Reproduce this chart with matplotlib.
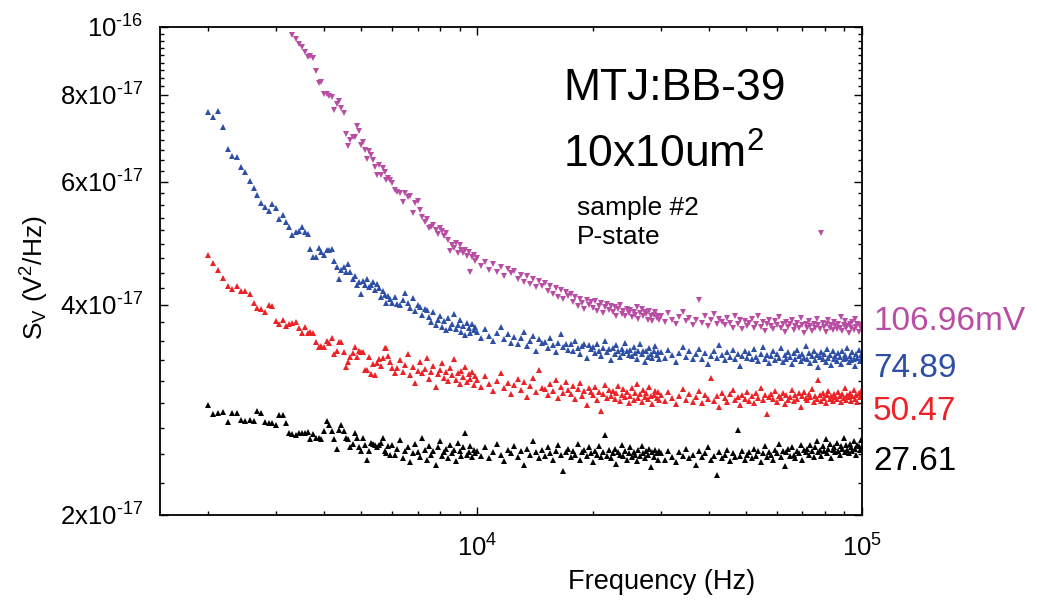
import matplotlib
matplotlib.use('Agg')
import matplotlib.pyplot as plt
import numpy as np
from matplotlib.ticker import FixedLocator, LogLocator, NullFormatter

plt.rcParams['font.family'] = ['Liberation Sans', 'DejaVu Sans']
plt.rcParams['mathtext.fontset'] = 'custom'
plt.rcParams['mathtext.rm'] = 'Liberation Sans'
plt.rcParams['mathtext.it'] = 'Liberation Sans:italic'
plt.rcParams['mathtext.bf'] = 'Liberation Sans:bold'
plt.rcParams['mathtext.default'] = 'regular'

# measurement frequencies (kHz), shared by all four bias voltages
freq_khz = [
    2.0, 2.0625, 2.125, 2.1875, 2.25, 2.3125, 2.375, 2.4375, 2.5, 2.5625, 2.625, 2.6875, 2.75, 2.8125, 2.875, 2.9375,
    3.0, 3.0625, 3.125, 3.1875, 3.25, 3.3125, 3.375, 3.4375, 3.5, 3.5625, 3.625, 3.6875, 3.75, 3.8125, 3.875, 3.9375,
    4.0, 4.0625, 4.125, 4.1875, 4.25, 4.3125, 4.375, 4.4375, 4.5, 4.5625, 4.625, 4.6875, 4.75, 4.8125, 4.875, 4.9375,
    5.0, 5.0625, 5.125, 5.1875, 5.25, 5.3125, 5.375, 5.4375, 5.5, 5.5625, 5.625, 5.6875, 5.75, 5.8125, 5.875, 5.9375,
    6.0, 6.1, 6.2, 6.3, 6.4, 6.5, 6.6, 6.7, 6.8, 6.9, 7.0, 7.1, 7.2, 7.3, 7.4, 7.5, 7.6, 7.7, 7.8, 7.9,
    8.0, 8.1, 8.2, 8.3, 8.4, 8.5, 8.6, 8.7, 8.8, 8.9, 9.0, 9.1, 9.2, 9.3, 9.4, 9.5, 9.6, 9.7, 9.8, 9.9,
    10.0, 10.25, 10.5, 10.75, 11.0, 11.25, 11.5, 11.75, 12.0, 12.25, 12.5, 12.75, 13.0, 13.25, 13.5, 13.75,
    14.0, 14.25, 14.5, 14.75, 15.0, 15.25, 15.5, 15.75, 16.0, 16.25, 16.5, 16.75, 17.0, 17.25, 17.5, 17.75,
    18.0, 18.25, 18.5, 18.75, 19.0, 19.25, 19.5, 19.75, 20.0, 20.25, 20.5, 20.75, 21.0, 21.25, 21.5, 21.75,
    22.0, 22.25, 22.5, 22.75, 23.0, 23.25, 23.5, 23.75, 24.0, 24.25, 24.5, 24.75, 25.0, 25.25, 25.5, 25.75,
    26.0, 26.25, 26.5, 26.75, 27.0, 27.25, 27.5, 27.75, 28.0, 28.25, 28.5, 28.75, 29.0, 29.25, 29.5, 29.75,
    30.0, 30.7, 31.4, 32.1, 32.8, 33.5, 34.2, 34.9, 35.6, 36.3, 37.0, 37.7, 38.4, 39.1, 39.8, 40.5, 41.2, 41.9, 42.6, 43.3,
    44.0, 44.7, 45.4, 46.1, 46.8, 47.5, 48.2, 48.9, 49.6, 50.3, 51.0, 51.7, 52.4, 53.1, 53.8, 54.5, 55.2, 55.9, 56.6, 57.3,
    58.0, 58.7, 59.4, 60.1, 60.8, 61.5, 62.2, 62.9, 63.6, 64.3, 65.0, 65.7, 66.4, 67.1, 67.8, 68.5, 69.2, 69.9, 70.6, 71.3,
    72.0, 72.7, 73.4, 74.1, 74.8, 75.5, 76.2, 76.9, 77.6, 78.3, 79.0, 79.7, 80.4, 81.1, 81.8, 82.5, 83.2, 83.9, 84.6, 85.3,
    86.0, 86.7, 87.4, 88.1, 88.8, 89.5, 90.2, 90.9, 91.6, 92.3, 93.0, 93.7, 94.4, 95.1, 95.8, 96.5, 97.2, 97.9, 98.6, 99.3,
    100.0,
]

# S_V in units of 1e-17 V^2/Hz
sv_27mv = [
    2.87, 2.79, 2.80, 2.81, 2.72, 2.80, 2.80, 2.74, 2.73, 2.74, 2.73, 2.82, 2.80, 2.72, 2.71, 2.71,
    2.69, 2.78, 2.78, 2.71, 2.62, 2.61, 2.60, 2.62, 2.62, 2.62, 2.63, 2.57, 2.61, 2.58, 2.58, 2.57,
    2.64, 2.73, 2.69, 2.64, 2.57, 2.49, 2.65, 2.69, 2.64, 2.58, 2.57, 2.50, 2.53, 2.62, 2.58, 2.50,
    2.47, 2.58, 2.52, 2.40, 2.47, 2.54, 2.53, 2.52, 2.50, 2.52, 2.54, 2.58, 2.47, 2.45, 2.51, 2.44,
    2.52, 2.44, 2.49, 2.56, 2.41, 2.47, 2.50, 2.38, 2.45, 2.53, 2.46, 2.42, 2.58, 2.48, 2.40, 2.51, 2.44, 2.47, 2.36, 2.50,
    2.55, 2.43, 2.46, 2.49, 2.41, 2.52, 2.45, 2.48, 2.39, 2.54, 2.47, 2.43, 2.50, 2.62, 2.44, 2.46, 2.51, 2.42, 2.48, 2.45,
    2.47, 2.43, 2.50, 2.41, 2.46, 2.53, 2.44, 2.39, 2.48, 2.45, 2.51, 2.42, 2.47, 2.36, 2.49, 2.44,
    2.55, 2.46, 2.41, 2.48, 2.43, 2.50, 2.45, 2.40, 2.47, 2.52, 2.44, 2.31, 2.46, 2.49, 2.42, 2.47,
    2.44, 2.53, 2.40, 2.46, 2.48, 2.43, 2.50, 2.45, 2.38, 2.47, 2.44, 2.51, 2.42, 2.46, 2.60, 2.43,
    2.48, 2.41, 2.45, 2.49, 2.37, 2.46, 2.44, 2.52, 2.43, 2.47, 2.40, 2.45, 2.50, 2.42, 2.46, 2.44,
    2.39, 2.48, 2.43, 2.51, 2.45, 2.41, 2.47, 2.44, 2.49, 2.34, 2.46, 2.42, 2.48, 2.45, 2.40, 2.47,
    2.45, 2.40, 2.47, 2.42, 2.38, 2.46, 2.43, 2.49, 2.41, 2.44, 2.36, 2.47, 2.42, 2.45, 2.50, 2.40, 2.43, 2.28, 2.46, 2.41,
    2.44, 2.48, 2.39, 2.45, 2.42, 2.65, 2.43, 2.47, 2.40, 2.44, 2.46, 2.41, 2.49, 2.43, 2.47, 2.38, 2.45, 2.51, 2.42, 2.46,
    2.44, 2.40, 2.48, 2.45, 2.53, 2.42, 2.47, 2.35, 2.46, 2.49, 2.43, 2.50, 2.44, 2.41, 2.47, 2.45, 2.52, 2.40, 2.48, 2.46,
    2.49, 2.44, 2.52, 2.47, 2.42, 2.50, 2.55, 2.46, 2.48, 2.43, 2.51, 2.47, 2.57, 2.45, 2.49, 2.53, 2.41, 2.48, 2.50, 2.46,
    2.54, 2.47, 2.44, 2.51, 2.49, 2.58, 2.46, 2.52, 2.48, 2.45, 2.53, 2.50, 2.47, 2.55, 2.49, 2.44, 2.52, 2.51, 2.48, 2.56,
    2.50,
]

sv_50mv = [
    4.72, 4.59, 4.49, 4.37, 4.26, 4.21, 4.26, 4.19, 4.18, 4.14, 4.02, 3.96, 3.95, 3.91, 4.00, 3.98,
    3.79, 3.75, 3.80, 3.73, 3.76, 3.77, 3.78, 3.70, 3.65, 3.72, 3.65, 3.66, 3.64, 3.54, 3.48, 3.49,
    3.48, 3.55, 3.53, 3.59, 3.40, 3.44, 3.54, 3.54, 3.42, 3.26, 3.31, 3.37, 3.41, 3.48, 3.37, 3.44,
    3.42, 3.42, 3.23, 3.23, 3.37, 3.18, 3.29, 3.17, 3.30, 3.35, 3.27, 3.36, 3.47, 3.47, 3.38, 3.31,
    3.25, 3.19, 3.25, 3.33, 3.21, 3.28, 3.40, 3.17, 3.26, 3.09, 3.22, 3.31, 3.19, 3.24, 3.36, 3.13, 3.20, 3.27, 3.05, 3.18,
    3.23, 3.30, 3.14, 3.21, 3.11, 3.25, 3.17, 3.34, 3.12, 3.19, 3.08, 3.22, 3.15, 3.26, 3.10, 3.18, 3.13, 3.21, 3.07, 3.16,
    3.12, 3.05, 3.16, 3.08, 3.01, 3.11, 3.19, 3.04, 3.09, 2.98, 3.07, 3.13, 3.02, 3.10, 2.95, 3.06,
    3.14, 3.00, 3.23, 3.04, 3.03, 2.97, 3.08, 3.01, 3.12, 2.94, 3.05, 2.99, 3.10, 3.02, 2.98, 3.06,
    2.93, 3.03, 3.09, 2.96, 3.01, 2.87, 3.04, 3.00, 2.97, 3.05, 2.92, 3.00, 2.82, 2.98, 3.07, 2.94,
    3.02, 2.96, 3.01, 2.93, 2.99, 3.06, 2.91, 2.97, 3.03, 2.95, 3.00, 2.89, 2.96, 3.04, 2.92, 2.99,
    3.08, 2.94, 2.98, 2.90, 3.02, 2.95, 2.99, 2.93, 3.05, 2.96, 2.88, 2.97, 3.01, 2.94, 3.00, 2.92,
    2.97, 2.91, 3.00, 2.94, 2.88, 2.96, 3.03, 2.92, 2.98, 2.90, 2.95, 3.01, 2.89, 2.97, 2.93, 3.14, 2.91, 2.96, 2.86, 2.99,
    2.94, 2.90, 2.98, 3.02, 2.92, 2.95, 2.87, 2.97, 2.93, 3.00, 2.91, 2.96, 2.89, 2.99, 2.94, 3.04, 2.92, 2.97, 2.79, 2.95,
    2.98, 2.93, 3.01, 2.90, 2.96, 2.94, 2.99, 2.88, 2.97, 2.92, 2.95, 3.02, 2.91, 2.97, 2.93, 2.99, 2.86, 2.96, 3.00, 2.94,
    2.92, 2.98, 2.95, 3.03, 2.90, 2.96, 2.93, 3.12, 2.97, 2.91, 2.99, 2.94, 2.89, 2.97, 3.01, 2.93, 2.96, 2.91, 2.98, 2.95,
    2.93, 3.00, 2.96, 2.90, 2.98, 2.94, 3.04, 2.92, 2.97, 2.95, 2.99, 2.91, 2.96, 3.02, 2.93, 2.97, 2.90, 2.99, 2.95, 3.01,
    2.96,
]

sv_75mv = [
    7.55, 7.43, 7.58, 7.19, 6.69, 6.53, 6.51, 6.30, 6.20, 6.02, 5.88, 5.74, 5.60, 5.53, 5.45, 5.57,
    5.50, 5.31, 5.38, 5.26, 5.17, 5.04, 5.08, 5.10, 5.17, 5.08, 5.05, 4.81, 4.68, 4.68, 4.82, 4.76,
    4.71, 4.79, 4.79, 4.81, 4.62, 4.53, 4.36, 4.49, 4.53, 4.46, 4.58, 4.46, 4.35, 4.40, 4.27, 4.31,
    4.15, 4.33, 4.27, 4.36, 4.24, 4.27, 4.31, 4.20, 4.29, 4.23, 4.10, 4.18, 4.13, 4.02, 4.12, 4.08,
    4.02, 4.10, 4.01, 4.00, 4.07, 4.16, 4.02, 3.96, 4.09, 3.92, 4.00, 3.97, 3.87, 3.95, 3.93, 3.84, 3.78, 3.90, 3.74, 3.81,
    3.86, 3.72, 3.79, 3.68, 3.83, 3.71, 3.76, 3.88, 3.69, 3.74, 3.80, 3.66, 3.73, 3.62, 3.77, 3.70, 3.65, 3.75, 3.68, 3.72,
    3.66, 3.58, 3.69, 3.61, 3.55, 3.64, 3.72, 3.57, 3.63, 3.53, 3.60, 3.51, 3.58, 3.66, 3.49, 3.55,
    3.61, 3.44, 3.57, 3.53, 3.54, 3.47, 3.58, 3.50, 3.42, 3.53, 3.63, 3.48, 3.52, 3.45, 3.51, 3.43,
    3.55, 3.47, 3.40, 3.49, 3.52, 3.36, 3.50, 3.46, 3.48, 3.41, 3.52, 3.44, 3.38, 3.47, 3.55, 3.42,
    3.46, 3.33, 3.47, 3.40, 3.50, 3.43, 3.37, 3.46, 3.41, 3.53, 3.44, 3.39, 3.45, 3.38, 3.48, 3.41,
    3.35, 3.44, 3.51, 3.40, 3.43, 3.31, 3.44, 3.37, 3.47, 3.40, 3.36, 3.43, 3.49, 3.39, 3.42, 3.35,
    3.42, 3.36, 3.45, 3.39, 3.31, 3.41, 3.48, 3.37, 3.43, 3.34, 3.40, 3.46, 3.35, 3.41, 3.29, 3.38, 3.44, 3.36, 3.50, 3.39,
    3.33, 3.42, 3.37, 3.45, 3.35, 3.40, 3.27, 3.38, 3.43, 3.36, 3.41, 3.34, 3.46, 3.37, 3.32, 3.40, 3.48, 3.35, 3.39, 3.30,
    3.38, 3.44, 3.33, 3.40, 3.36, 3.47, 3.31, 3.39, 3.35, 3.42, 3.37, 3.29, 3.41, 3.34, 3.45, 3.38, 3.32, 3.40, 3.36, 3.49,
    3.35, 3.41, 3.30, 3.38, 3.44, 3.33, 3.39, 3.26, 3.37, 3.42, 3.34, 3.40, 3.31, 3.46, 3.36, 3.39, 3.28, 3.43, 3.35, 3.38,
    3.32, 3.41, 3.37, 3.29, 3.44, 3.34, 3.39, 3.36, 3.47, 3.31, 3.38, 3.33, 3.42, 3.35, 3.27, 3.40, 3.36, 3.45, 3.32, 3.39,
    3.37,
]

# 106.96 mV curve leaves the top of the axis below ~3.3 kHz; its points start at freq_khz[21]
sv_107mv = [
    9.74, 9.61, 9.45, 9.36, 9.20, 9.06, 9.09, 9.03, 8.65, 8.31, 8.34,
    8.02, 8.02, 7.96, 7.94, 7.60, 7.76, 7.83, 7.65, 7.53, 7.03, 6.76, 6.89, 6.96, 6.96, 7.21, 7.10,
    6.78, 6.84, 6.66, 6.47, 6.64, 6.56, 6.45, 6.30, 6.14, 6.34, 6.14, 6.28, 6.20, 6.04, 6.08, 6.04,
    5.98, 5.84, 5.80, 5.78, 5.61, 5.79, 5.71, 5.73, 5.41, 5.60, 5.63, 5.47, 5.34, 5.26, 5.30, 5.15, 5.17, 5.20, 5.12, 5.05,
    5.15, 5.10, 5.02, 5.07, 4.95, 4.78, 4.87, 4.82, 4.90, 4.75, 4.87, 4.80, 4.74, 4.79, 4.70, 4.76, 4.46, 4.68, 4.71, 4.62,
    4.66, 4.55, 4.61, 4.49, 4.57, 4.46, 4.53, 4.40, 4.50, 4.44, 4.47, 4.36, 4.42, 4.31, 4.40, 4.28,
    4.35, 4.24, 4.33, 4.26, 4.30, 4.19, 4.26, 4.14, 4.23, 4.11, 4.20, 4.08, 4.17, 4.12, 4.15, 4.04,
    4.11, 3.98, 4.08, 4.02, 3.95, 4.07, 4.00, 4.04, 3.96, 4.05, 3.92, 3.99, 4.03, 3.89, 3.97, 4.01,
    3.93, 3.98, 3.90, 3.97, 3.86, 3.94, 4.00, 3.88, 3.92, 3.85, 3.95, 3.89, 3.93, 3.84, 3.91, 3.87,
    3.97, 3.82, 3.89, 3.94, 3.85, 3.90, 3.88, 3.81, 3.92, 3.85, 3.79, 3.87, 3.90, 3.83, 3.86, 3.80,
    3.85, 3.78, 3.89, 3.81, 3.76, 3.84, 3.91, 3.79, 3.83, 3.74, 3.81, 4.06, 3.77, 3.86, 3.73, 3.80, 3.88, 3.75, 3.82, 3.78,
    3.74, 3.83, 3.77, 3.71, 3.85, 3.76, 3.80, 3.69, 3.79, 3.73, 3.77, 3.82, 3.70, 3.76, 3.86, 3.72, 3.78, 3.67, 3.75, 3.80,
    3.73, 3.69, 3.79, 3.74, 3.84, 3.71, 3.76, 3.66, 3.78, 3.72, 3.75, 3.81, 3.68, 3.73, 3.77, 3.70, 3.83, 3.74, 3.65, 3.76,
    3.71, 3.79, 3.73, 3.67, 3.76, 3.70, 3.82, 3.74, 3.69, 5.07, 3.77, 3.72, 3.66, 3.75, 3.80, 3.70, 3.74, 3.68, 3.78, 3.73,
    3.69, 3.76, 3.71, 3.84, 3.67, 3.74, 3.79, 3.70, 3.73, 3.65, 3.75, 3.71, 3.78, 3.68, 3.82, 3.72, 3.76, 3.66, 3.74, 3.70,
    3.73,
]

bias_labels = ['106.96mV', '74.89', '50.47', '27.61']
colors = ['#B84DA3', '#2E4FA6', '#EC2227', '#000000']

freq = np.array(freq_khz) * 1e3
fig = plt.figure(figsize=(10.37, 6.06), dpi=100)
ax = fig.add_axes([0.1543, 0.1502, 0.677, 0.8053])

ms = 3.7
ax.plot(freq, np.array(sv_27mv) * 1e-17, '^', color=colors[3], ms=ms, mew=0, ls='none')
ax.plot(freq, np.array(sv_50mv) * 1e-17, '^', color=colors[2], ms=ms, mew=0, ls='none')
ax.plot(freq, np.array(sv_75mv) * 1e-17, '^', color=colors[1], ms=ms, mew=0, ls='none')
ax.plot(freq[21:], np.array(sv_107mv) * 1e-17, 'v', color=colors[0], ms=ms, mew=0, ls='none')

ax.set_xscale('log')
ax.set_yscale('log')
ax.set_xlim(1500, 1e5)
ax.set_ylim(2e-17, 1e-16)

# y ticks: majors every 2e-17, 8 evenly spaced minor ticks in between
ymaj = [2e-17, 4e-17, 6e-17, 8e-17, 1e-16]
ylab = ['2x10$^{\u201017}$', '4x10$^{\u201017}$', '6x10$^{\u201017}$', '8x10$^{\u201017}$', '10$^{\u201016}$']
ymin = []
for a, b in zip(ymaj[:-1], ymaj[1:]):
    ymin += list(np.linspace(a, b, 10)[1:-1])
ax.yaxis.set_major_locator(FixedLocator(ymaj))
ax.set_yticklabels(ylab)
ax.yaxis.set_minor_locator(FixedLocator(ymin))
ax.yaxis.set_minor_formatter(NullFormatter())

ax.xaxis.set_major_locator(FixedLocator([1e4, 1e5]))
ax.set_xticklabels(['10$^4$', '10$^5$'])
ax.xaxis.set_minor_locator(LogLocator(base=10, subs=np.arange(2, 10)))
ax.xaxis.set_minor_formatter(NullFormatter())

ax.tick_params(which='both', direction='in', top=True, right=True, width=1.0, labelsize=18.5)
ax.tick_params(which='major', length=6)
ax.tick_params(which='minor', length=3)
ax.tick_params(axis='y', pad=12)
ax.tick_params(axis='x', pad=14)
for s in ax.spines.values():
    s.set_linewidth(1.3)

ax.set_xlabel('Frequency (Hz)', fontsize=19.5, va='center')
ax.xaxis.set_label_coords(0.715, -0.137)
ax.set_ylabel('S$_V$ (V$^2$/Hz)', fontsize=19, va='center')
ax.yaxis.set_label_coords(-0.178, 0.486)

W, H = 1037, 606
fig.text(563 / W, 1 - 100 / H, 'MTJ:BB-39', fontsize=32, va='baseline')
fig.text(563 / W, 1 - 168 / H, '10x10um$^2$', fontsize=32, va='baseline')
fig.text(577 / W, 1 - 215 / H, 'sample #2', fontsize=19, va='baseline')
fig.text(577 / W, 1 - 244 / H, 'P-state', fontsize=19, va='baseline')

for lab, c, yb in zip(bias_labels, colors, [330, 377, 420, 470]):
    fig.text(873 / W, 1 - yb / H, lab, fontsize=24, color=c, va='baseline')

fig.savefig('out.png', dpi=100)
